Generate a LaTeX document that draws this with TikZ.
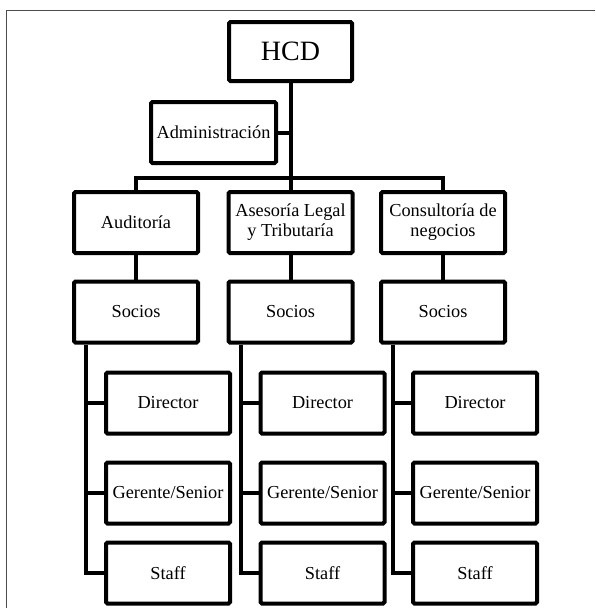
\documentclass[tikz,border=0pt]{standalone}
\usepackage{fontspec}
\setmainfont{Liberation Serif}

\tikzset{
  every unit/.style={draw, line width=4pt, rounded corners=1.5pt, align=center,
    inner sep=2pt, minimum width=124pt, minimum height=61pt,
    font=\fontsize{18.3}{20}\selectfont},
  unit top/.style={minimum width=123pt, minimum height=59pt,
    font=\fontsize{28}{28}\selectfont},
  link/.style={line width=4pt}
}

\begin{document}
\begin{tikzpicture}[x=1pt, y=-1pt]
\useasboundingbox (0,0) rectangle (595,608);
% Draw the frame
\draw [gray!60!black, line width=1pt] (6,608) |- (595,10);

% Draw top nodes
\node [every unit/.try, unit top/.try] (hcd) at (290.5,51.5) {HCD};
\node [every unit/.try, minimum width=125pt] (admin) at (213.5,132.5) {Administración};

% Draw area nodes and their staff
\foreach \x/\l [count=\c] in {136/Auditoría, 290.5/Asesoría Legal\\y Tributaría, 443/Consultoría de\\negocios}
{
  \node [every unit/.try] (area-\c) at (\x,222.5) {\l};
  \node [every unit/.try] (socios-\c) at (\x,312) {Socios};
  \foreach \r/\y/\t in {dir/403/Director, ger/493/{Gerente/Senior}, staff/573/Staff}
    \node [every unit/.try] (\r-\c) at (\x+32,\y) {\t};
}

% Connect HCD with admin and areas
\coordinate (bar) at (290.5,178);
\draw [link] (hcd) -- (area-2);
\draw [link] (admin) -- (admin -| hcd);
\draw [link] (area-1.north) |- (bar) -| (area-3.north);

% Connect areas with socios and staff
\foreach \c in {1,2,3}
{
  \draw [link] (area-\c) -- (socios-\c);
  \coordinate (spine-\c) at ([xshift=-50pt]socios-\c.south);
  \draw [link] (spine-\c) |- (staff-\c);
  \foreach \r in {dir, ger}
    \draw [link] (\r-\c) -- (\r-\c -| spine-\c);
}
\end{tikzpicture}
\end{document}
